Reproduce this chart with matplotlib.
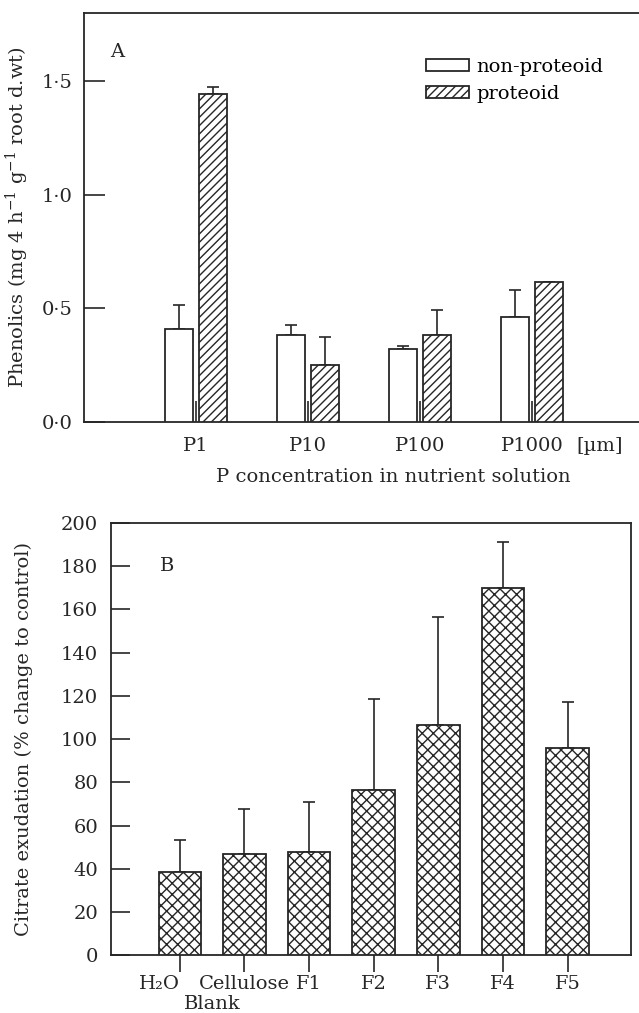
# -*- coding: utf-8 -*-
# Phenolics (A) and citrate exudation (B) bar charts

import numpy as np
import matplotlib
matplotlib.use("Agg")
import matplotlib.pyplot as plt

plt.rcParams['font.family'] = ['DejaVu Serif']
plt.rcParams['mathtext.fontset'] = 'dejavuserif'
plt.rcParams['hatch.linewidth'] = 1.0
plt.rcParams['hatch.color'] = '#222222'

# ---- data, panel A
groups_a = ['P1', 'P10', 'P100', 'P1000']
nonprot = [0.407, 0.384, 0.322, 0.462]
nonprot_err = [0.106, 0.041, 0.012, 0.119]
prot = [1.446, 0.250, 0.381, 0.615]
prot_err = [0.028, 0.125, 0.113, 0.0]
yticks_a = [0.0, 0.5, 1.0, 1.5]
yticklabels_a = ['0·0', '0·5', '1·0', '1·5']

# ---- data, panel B
labels_b = ['H₂O', 'Cellulose', 'F1', 'F2', 'F3', 'F4', 'F5']
citrate = [38.5, 47.0, 47.6, 76.6, 106.5, 169.9, 95.8]
citrate_err = [14.7, 20.5, 23.3, 42.0, 49.9, 21.1, 21.2]

FS = 14
EC = '#262626'

fig = plt.figure(figsize=(6.39, 10.13), dpi=100)

# panel A (right side runs off the page, like the scan)
axA = fig.add_axes([0.1315, 0.5837, 0.8767, 0.4032])
x = np.arange(len(groups_a))
w = 0.253
off = 0.152
axA.bar(x - off, nonprot, w, facecolor='white', edgecolor=EC, linewidth=1.3,
        label='non-proteoid', zorder=3)
axA.bar(x + off, prot, w, facecolor='white', edgecolor=EC, linewidth=1.3,
        hatch='////', label='proteoid', zorder=3)
axA.errorbar(x - off, nonprot, yerr=[np.zeros(4), nonprot_err], fmt='none',
             ecolor=EC, elinewidth=1.2, capsize=4, capthick=1.2, zorder=2)
axA.errorbar(x + off, prot, yerr=[np.zeros(4), prot_err], fmt='none',
             ecolor=EC, elinewidth=1.2, capsize=4, capthick=1.2, zorder=2)
axA.set_xlim(-1.0, 4.0)
axA.set_ylim(0, 1.8)
axA.set_yticks(yticks_a)
axA.set_yticklabels(yticklabels_a)
axA.set_xticks(x)
axA.set_xticklabels(groups_a)
axA.tick_params(axis='y', direction='in', length=15, width=1.2, pad=8,
                labelsize=FS, colors=EC)
axA.tick_params(axis='x', direction='in', length=15, width=1.2, pad=11,
                labelsize=FS, colors=EC)
axA.spines['right'].set_visible(False)
for s in ['left', 'top', 'bottom']:
    axA.spines[s].set_linewidth(1.3)
    axA.spines[s].set_color(EC)
axA.set_ylabel('Phenolics (mg 4 h$^{-1}$ g$^{-1}$ root d.wt)', fontsize=FS,
               color=EC)
axA.yaxis.set_label_coords(-0.095, 0.5)
fig.text(600 / 639, 1 - 446 / 1013, '[µm]', ha='center', va='center',
         fontsize=FS, color=EC)
fig.text(393 / 639, 1 - 477 / 1013, 'P concentration in nutrient solution',
         ha='center', va='center', fontsize=FS, color=EC)
axA.text(0.047, 0.905, 'A', transform=axA.transAxes, fontsize=FS, color=EC,
         va='center')
axA.legend(loc='upper left', bbox_to_anchor=(426 / 639, 1 - 58 / 1013),
           bbox_transform=fig.transFigure, frameon=False, fontsize=FS,
           handlelength=2.2, handleheight=0.6, handletextpad=0.4,
           labelspacing=0.45, borderpad=0, borderaxespad=0)

# panel B
axB = fig.add_axes([0.1732, 0.05696, 0.8142, 0.4270])
xb = np.arange(len(labels_b))
axB.bar(xb, citrate, 0.66, facecolor='white', edgecolor=EC, linewidth=1.3,
        hatch='xxx', zorder=3)
axB.errorbar(xb, citrate, yerr=[np.zeros(len(xb)), citrate_err], fmt='none',
             ecolor=EC, elinewidth=1.2, capsize=4.5, capthick=1.2, zorder=2)
axB.set_xlim(-1.07, 6.98)
axB.set_ylim(0, 200)
axB.set_yticks(np.arange(0, 201, 20))
axB.set_xticks(xb)
axB.set_xticklabels(labels_b)
axB.tick_params(axis='y', direction='in', length=14, width=1.2, pad=9,
                labelsize=FS, colors=EC)
axB.tick_params(axis='x', direction='out', length=12, width=1.2, pad=2,
                labelsize=FS, colors=EC)
for s in axB.spines.values():
    s.set_linewidth(1.3)
    s.set_color(EC)
xtl = axB.get_xticklabels()
xtl[0].set_ha('right')
axB.text(0.5, -0.113, 'Blank', transform=axB.get_xaxis_transform(),
         ha='center', va='center', fontsize=FS, color=EC)
axB.set_ylabel('Citrate exudation (% change to control)', fontsize=FS,
               color=EC)
axB.yaxis.set_label_coords(-0.15, 0.5)
axB.text(0.095, 0.9, 'B', transform=axB.transAxes, fontsize=FS, color=EC,
         va='center')

fig.savefig('out.png', dpi=100)
